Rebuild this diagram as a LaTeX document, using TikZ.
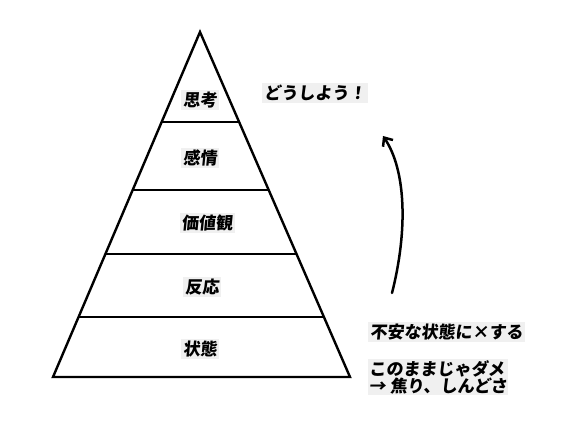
\documentclass[tikz,border=0pt]{standalone}
\usepackage{fontspec}
\newfontfamily\jpfont[FakeSlant=0.1]{Noto Sans CJK JP}
\usetikzlibrary{calc,arrows.meta}
\begin{document}
\begin{tikzpicture}[x=1pt, y=-1pt]
\tikzset{lbl/.style={fill=gray!12, inner sep=2pt, font=\jpfont\bfseries\fontsize{17}{17}\selectfont}}
\tikzset{note/.style={lbl, align=left, anchor=west}}
\tikzset{edge/.style={line width=2.4pt, line join=miter}}
\tikzset{arrow/.style={-{Straight Barb[length=7pt,width=12pt]}, line width=2.5pt, line cap=round}}
\useasboundingbox (0,0) rectangle (573,443);

% pyramid
\coordinate (apex) at (200,32);
\coordinate (bl) at (53,377);
\coordinate (br) at (350,377);
\draw[edge] (apex) -- (bl) -- (br) -- cycle;
\foreach \t in {0.261,0.458,0.643,0.826}
  \draw[edge] ($(apex)!\t!(bl)$) -- ($(apex)!\t!(br)$);

% layer labels
\node[lbl] (shikou) at (200,100) {思考};
\node[lbl] (kanjou) at (200,158) {感情};
\node[lbl] (kachikan) at (207,223) {価値観};
\node[lbl] (hannou) at (202,287) {反応};
\node[lbl] (joutai) at (200,349) {状態};

% notes
\node[lbl, anchor=west] (doushiyou) at (262,93) {どうしよう！};
\node[note] (fuan) at (368,332) {不安な状態に×する};
\node[note, inner sep=1pt] (dame) at (368,377) {このままじゃダメ\\→ 焦り、しんどさ};

% arrow
\coordinate (up0) at (392,293);
\coordinate (up1) at (383,136);
\draw[arrow] (up0) .. controls (408,230) and (406,170) .. (up1);
\end{tikzpicture}
\end{document}
